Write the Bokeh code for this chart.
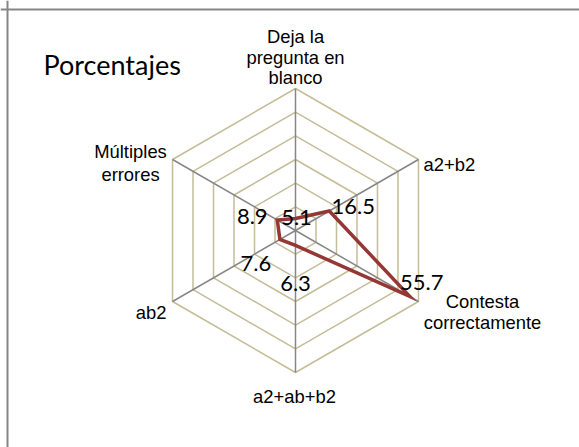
import numpy as np
from bokeh.plotting import figure
from bokeh.models import Range1d, Span
from bokeh.core.properties import value
from bokeh.embed import file_html
from bokeh.resources import INLINE

# ---------------- data ----------------
title_text = "Porcentajes"
categories = ["Deja la\npregunta en\nblanco", "a2+b2", "Contesta\ncorrectamente",
              "a2+ab+b2", "ab2", "Múltiples\nerrores"]
values = [5.1, 16.5, 55.7, 6.3, 7.6, 8.9]
value_labels = ["5.1", "16.5", "55.7", "6.3", "7.6", "8.9"]
ring_levels = [10, 20, 30, 40, 50, 60]

# ---------------- layout ----------------
W, H = 579, 447
CX, CY = 295, 230          # px of radar centre
RPX = 142                  # px of outer ring
RMAX = ring_levels[-1]
s = RPX / RMAX             # px per unit
fx, fy = CX, CY


def px(xp, yp):
    """pixel -> data coords"""
    return (xp - CX) / s, (CY - yp) / s


p = figure(width=W, height=H, output_backend="svg", toolbar_location=None,
           x_range=Range1d(-fx / s, (W - fx) / s),
           y_range=Range1d(-(H - fy) / s, fy / s),
           x_axis_location=None, y_axis_location=None, min_border=0,
           background_fill_color="white", border_fill_color="white")
p.grid.visible = False
p.outline_line_color = None

n = len(categories)
ang = np.pi / 2 - np.arange(n) * 2 * np.pi / n
ux, uy = np.cos(ang), np.sin(ang)

# rings
for r in ring_levels:
    xs = list(r * ux) + [r * ux[0]]
    ys = list(r * uy) + [r * uy[0]]
    p.line(xs, ys, line_color="#C4BD97", line_width=1.5)

# spokes
p.multi_line([[0, RMAX * ux[i]] for i in range(n)],
             [[0, RMAX * uy[i]] for i in range(n)],
             line_color="#868686", line_width=1.5)

# series
v = np.array(values)
sx = list(v * ux) + [v[0] * ux[0]]
sy = list(v * uy) + [v[0] * uy[0]]
p.line(sx, sy, line_color="#953735", line_width=3.5, line_join="miter")

# data labels (pixel offsets from each point)
lab_off = [(1, -1), (24, -4), (12, -14), (0, 38), (-24, 24), (-25, -3)]
p.text(x=list(v * ux), y=list(v * uy), text=value_labels,
       x_offset=[o[0] for o in lab_off], y_offset=[o[1] for o in lab_off],
       text_align="center", text_baseline="alphabetic",
       text_font=value("Lato"), text_font_size="22px", text_color="black")

# category labels: (dx, [baseline dy per line], align)
cat_pos = [
    (0, [-52, -31, -11], "center"),
    (5, [4.5], "left"),
    (64, [0, 21], "center"),
    (-1, [24], "center"),
    (-6, [11], "right"),
    (-42, [-8.5, 14.5], "center"),
]
for i, lab in enumerate(categories):
    lines = lab.split("\n")
    dx, dys, al = cat_pos[i]
    p.text(x=[RMAX * ux[i]] * len(lines), y=[RMAX * uy[i]] * len(lines),
           text=lines, x_offset=[dx] * len(lines), y_offset=dys,
           text_align=al, text_baseline="alphabetic",
           text_font=value("Liberation Sans"), text_font_size="18.4px",
           text_color="black")

# title
tx, ty = px(43, 64)
p.text(x=[tx], y=[ty], text=[title_text], text_align="left",
       text_baseline="alphabetic", text_font=value("Lato"),
       text_font_size="27px", text_color="black")

# chart border (left & top visible)
bx, by = px(7, 9)
p.add_layout(Span(location=bx, dimension="height", line_color="#868686", line_width=2))
p.add_layout(Span(location=by, dimension="width", line_color="#868686", line_width=2))

open("out.html", "w").write(file_html(p, INLINE))
